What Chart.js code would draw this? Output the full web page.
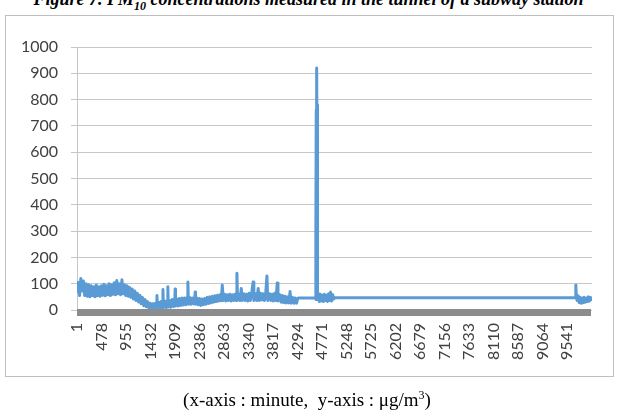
<!DOCTYPE html>
<html lang="en">
<head>
    <meta charset="UTF-8">
    <title>PM10 en túnel</title>
    <script src="https://cdn.jsdelivr.net/npm/chart.js"></script>
    <style>
        body {
            margin: 0;
            width: 617px;
            height: 420px;
            overflow: hidden;
            background: #ffffff;
            position: relative;
        }
        .titulo {
            position: absolute;
            left: 0;
            width: 617px;
            top: -10px;
            text-align: center;
            font-family: "Liberation Serif", "Times New Roman", serif;
            font-weight: bold;
            font-style: italic;
            font-size: 18px;
            line-height: 18px;
            white-space: nowrap;
        }
        .caja {
            position: absolute;
            left: 5px;
            top: 15px;
            width: 607px;
            height: 360px;
            border: 1px solid #bfbfbf;
        }
        canvas {
            position: absolute;
            left: 0;
            top: 0;
        }
        .pie {
            position: absolute;
            left: 0;
            width: 614px;
            top: 390px;
            text-align: center;
            font-family: "Liberation Serif", "Times New Roman", serif;
            font-size: 19px;
            line-height: 19px;
            white-space: pre;
        }
    </style>
</head>
<body>
    <div class="titulo">Figure 7. PM<sub style="font-size:12px;line-height:0">10</sub> concentrations measured in the tunnel of a subway station</div>
    <div class="caja"></div>
    <canvas id="grafica" width="617" height="420"></canvas>
    <div class="pie">(x-axis : minute,  y-axis : μg/m<sup style="font-size:12px;line-height:0">3</sup>)</div>

    <script>
        // minutos (eje x) y concentraciones PM10
        const minutes = [
            1, 26, 51, 76, 101, 126, 151, 176, 201, 226, 251, 276, 301, 326, 351, 376, 401, 426, 451, 476,
            501, 526, 551, 576, 601, 626, 651, 676, 701, 726, 751, 776, 801, 826, 851, 876, 901, 926, 951, 976,
            1001, 1026, 1051, 1076, 1101, 1126, 1151, 1176, 1201, 1226, 1251, 1276, 1301, 1326, 1351, 1376, 1401, 1426, 1451, 1476,
            1501, 1526, 1551, 1558, 1566, 1591, 1616, 1641, 1666, 1675, 1684, 1711, 1736, 1761, 1770, 1779, 1806, 1831, 1856, 1881,
            1906, 1912, 1920, 1946, 1971, 1996, 2021, 2046, 2071, 2096, 2121, 2146, 2160, 2172, 2196, 2221, 2246, 2271, 2296, 2302,
            2310, 2336, 2361, 2386, 2411, 2436, 2461, 2486, 2511, 2536, 2561, 2586, 2611, 2636, 2661, 2686, 2711, 2736, 2761, 2786,
            2811, 2830, 2850, 2876, 2901, 2926, 2951, 2976, 3001, 3026, 3051, 3076, 3101, 3115, 3128, 3151, 3176, 3200, 3220, 3251,
            3276, 3301, 3326, 3351, 3376, 3401, 3430, 3445, 3476, 3501, 3530, 3550, 3576, 3601, 3626, 3651, 3676, 3700, 3715, 3751,
            3776, 3801, 3826, 3851, 3876, 3900, 3915, 3951, 3976, 4001, 4026, 4051, 4076, 4101, 4126, 4150, 4170, 4201, 4226, 4251,
            4276, 4301, 4320, 4640, 4650, 4655, 4660, 4664, 4668, 4672, 4676, 4680, 4685, 4690, 4700, 4720, 4740, 4760, 4780, 4800,
            4820, 4840, 4860, 4880, 4900, 4920, 4940, 4960, 4980, 5000, 5020, 9700, 9715, 9725, 9740, 9760, 9780, 9800, 9820, 9840,
            9860, 9880, 9900, 9920, 9940, 9960, 9980, 10000, 10020
        ];
        const pm10 = [
            70, 105, 55, 120, 72, 110, 55, 100, 52, 96, 50, 92, 55, 88, 50, 95, 54, 88, 52, 92,
            56, 98, 54, 92, 58, 100, 55, 96, 60, 104, 58, 112, 62, 100, 58, 115, 62, 96, 55, 92,
            52, 86, 48, 80, 42, 72, 36, 64, 30, 56, 24, 48, 16, 40, 12, 32, 8, 26, 7, 24,
            7, 26, 8, 55, 9, 30, 7, 32, 9, 78, 10, 34, 9, 36, 88, 11, 36, 11, 40, 13,
            40, 80, 15, 42, 15, 44, 17, 46, 19, 46, 20, 48, 106, 22, 48, 22, 46, 24, 50, 68,
            22, 46, 20, 44, 17, 42, 20, 44, 22, 48, 25, 50, 27, 52, 30, 54, 32, 56, 34, 58,
            35, 95, 36, 60, 34, 58, 36, 60, 34, 58, 36, 60, 36, 140, 38, 60, 36, 82, 36, 62,
            36, 60, 34, 64, 36, 62, 106, 36, 62, 36, 82, 36, 64, 38, 62, 36, 64, 129, 36, 62,
            36, 60, 34, 64, 36, 103, 34, 58, 30, 55, 28, 52, 27, 50, 27, 70, 26, 48, 26, 46,
            26, 44, 46, 46, 40, 300, 760, 520, 790, 920, 600, 780, 200, 40, 64, 32, 60, 34, 56, 32,
            60, 36, 56, 32, 62, 36, 68, 34, 58, 42, 47, 47, 95, 50, 36, 54, 28, 48, 26, 46,
            28, 48, 30, 46, 32, 50, 34, 48, 40
        ];
        const xTickLabels = [1, 478, 955, 1432, 1909, 2386, 2863, 3340, 3817, 4294, 4771, 5248, 5725, 6202, 6679, 7156, 7633, 8110, 8587, 9064, 9541];
        const yTicks = [0, 100, 200, 300, 400, 500, 600, 700, 800, 900, 1000];

        // barra gris gruesa bajo el area de la grafica (eje x)
        const barraEje = {
            id: 'barraEje',
            afterDatasetsDraw(chart) {
                const a = chart.chartArea;
                const ctx = chart.ctx;
                ctx.save();
                ctx.fillStyle = '#8c8c8c';
                ctx.fillRect(a.left, a.bottom - 1, a.right - a.left - 1, 7);
                ctx.restore();
            }
        };

        const ctx = document.getElementById('grafica').getContext('2d');
        new Chart(ctx, {
            type: 'line',
            data: {
                datasets: [{
                    data: minutes.map((m, i) => ({ x: m, y: pm10[i] })),
                    borderColor: '#5b9bd5',
                    borderWidth: 3,
                    borderJoinStyle: 'round',
                    borderCapStyle: 'round',
                    pointRadius: 0,
                    tension: 0,
                    fill: false
                }]
            },
            options: {
                responsive: false,
                animation: false,
                layout: { padding: { left: 0, right: 25, top: 47, bottom: 40 } },
                plugins: {
                    legend: { display: false },
                    tooltip: { enabled: false }
                },
                scales: {
                    x: {
                        type: 'linear',
                        min: 1,
                        max: 10030,
                        afterBuildTicks: scale => { scale.ticks = xTickLabels.map(v => ({ value: v })); },
                        afterFit: scale => { scale.height = 70; },
                        grid: { display: false, drawTicks: false },
                        border: { display: false },
                        ticks: {
                            autoSkip: false,
                            minRotation: 90,
                            maxRotation: 90,
                            padding: 13,
                            color: '#404040',
                            font: { family: 'Lato', size: 16 },
                            callback: v => String(v)
                        }
                    },
                    y: {
                        min: 0,
                        max: 1000,
                        afterBuildTicks: scale => { scale.ticks = yTicks.map(v => ({ value: v })); },
                        afterFit: scale => { scale.width = 77; },
                        grid: { color: '#c6c6c6', tickLength: 6, lineWidth: 1 },
                        border: { display: true, color: '#c6c6c6' },
                        ticks: {
                            padding: 13,
                            color: '#404040',
                            font: { family: 'Lato', size: 16 },
                            callback: v => String(v)
                        }
                    }
                }
            },
            plugins: [barraEje]
        });
    </script>
</body>
</html>
